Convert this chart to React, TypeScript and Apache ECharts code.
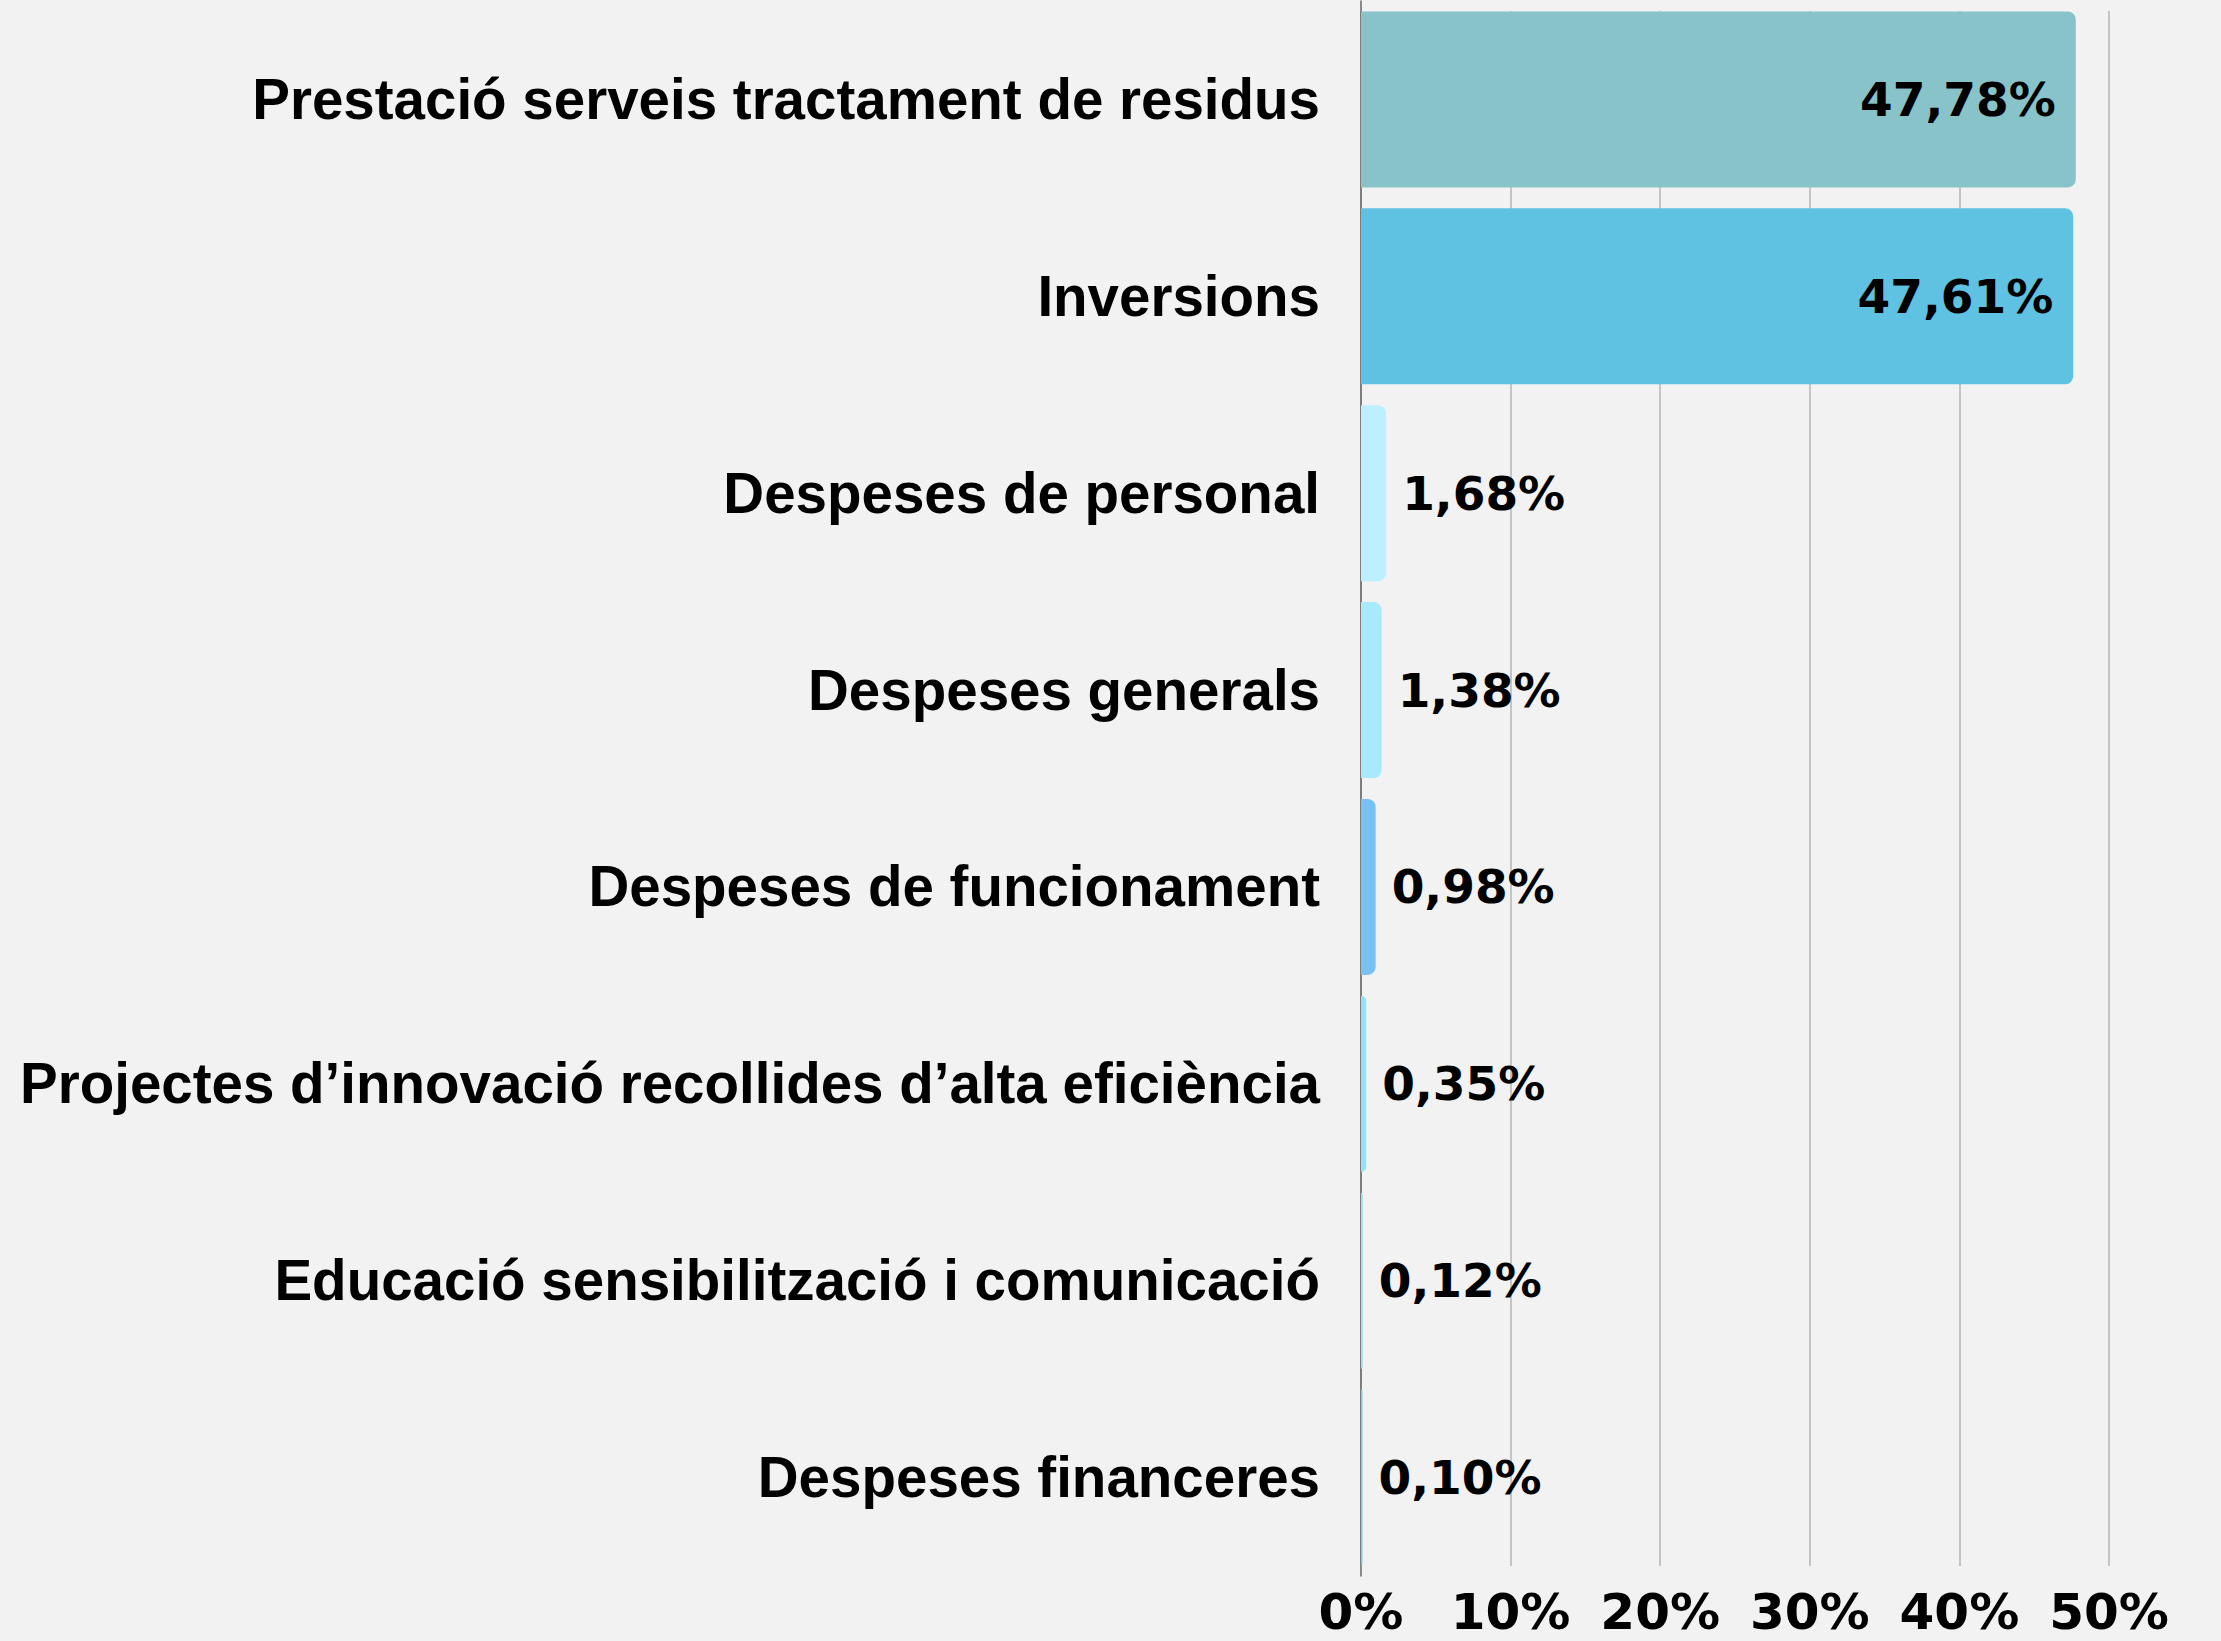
import React, { useEffect, useRef } from "react";
import * as echarts from "echarts";

const categories = [
  "Prestació serveis tractament de residus",
  "Inversions",
  "Despeses de personal",
  "Despeses generals",
  "Despeses de funcionament",
  "Projectes d’innovació recollides d’alta eficiència",
  "Educació sensibilització i comunicació",
  "Despeses financeres",
];
const values = [47.78, 47.61, 1.68, 1.38, 0.98, 0.35, 0.12, 0.1];
const barColors = [
  "#88c3c9",
  "#5fc2e2",
  "#bcefff",
  "#a8e9fe",
  "#78c2f3",
  "#90e2fb",
  "#a0dcea",
  "#74cfee",
];
const xTicks = [0, 10, 20, 30, 40, 50];

const fmt = (v: number) => v.toFixed(2).replace(".", ",") + "%";

export default function App() {
  const ref = useRef<HTMLDivElement>(null);
  useEffect(() => {
    if (!ref.current) return;
    const chart = echarts.init(ref.current, undefined, { renderer: "svg" });
    const data = values.map((v, i) => ({
      value: v,
      itemStyle: { color: barColors[i], borderRadius: [0, 8, 8, 0] },
      label:
        v > 10
          ? { position: "insideRight", distance: 20 }
          : { position: "right", distance: 16 },
    }));
    chart.setOption({
      animation: false,
      backgroundColor: "#f2f2f2",
      grid: [
        { left: 1361, width: 748, top: 1, height: 1575 },
        { left: 1361, width: 748, top: 11, height: 1555 },
      ],
      xAxis: [
        {
          gridIndex: 0,
          type: "value",
          min: 0,
          max: 50,
          show: false,
        },
        {
          gridIndex: 1,
          type: "value",
          min: xTicks[0],
          max: xTicks[xTicks.length - 1],
          interval: 10,
          axisLine: { show: false },
          axisTick: { show: false },
          splitLine: { show: true, lineStyle: { color: "#c4c4c4", width: 2 } },
          axisLabel: {
            formatter: "{value}%",
            fontSize: 50,
            fontWeight: "bold",
            fontFamily: "DejaVu Sans",
            color: "#000",
            margin: 21,
          },
        },
      ],
      yAxis: [
        {
          gridIndex: 0,
          type: "category",
          data: categories,
          inverse: true,
          axisTick: { show: false },
          axisLine: { show: true, lineStyle: { color: "#666", width: 1.5 } },
          axisLabel: {
            fontSize: 56.5,
            fontWeight: "bold",
            fontFamily: "Liberation Sans",
            color: "#000",
            margin: 41,
            padding: [0, 0, 8, 0],
          },
        },
        {
          gridIndex: 1,
          type: "category",
          data: [""],
          show: false,
        },
      ],
      series: [
        {
          type: "bar",
          xAxisIndex: 0,
          yAxisIndex: 0,
          barWidth: 176,
          data,
          label: {
            show: true,
            formatter: (p: any) => fmt(p.value),
            fontSize: 47,
            fontWeight: "bold",
            fontFamily: "DejaVu Sans",
            color: "#000",
            padding: [0, 0, 6, 0],
          },
          z: 3,
        },
      ],
    });
    return () => chart.dispose();
  }, []);
  return (
    <div
      ref={ref}
      style={{ position: "fixed", left: 0, top: 0, width: 2221, height: 1641 }}
    />
  );
}
